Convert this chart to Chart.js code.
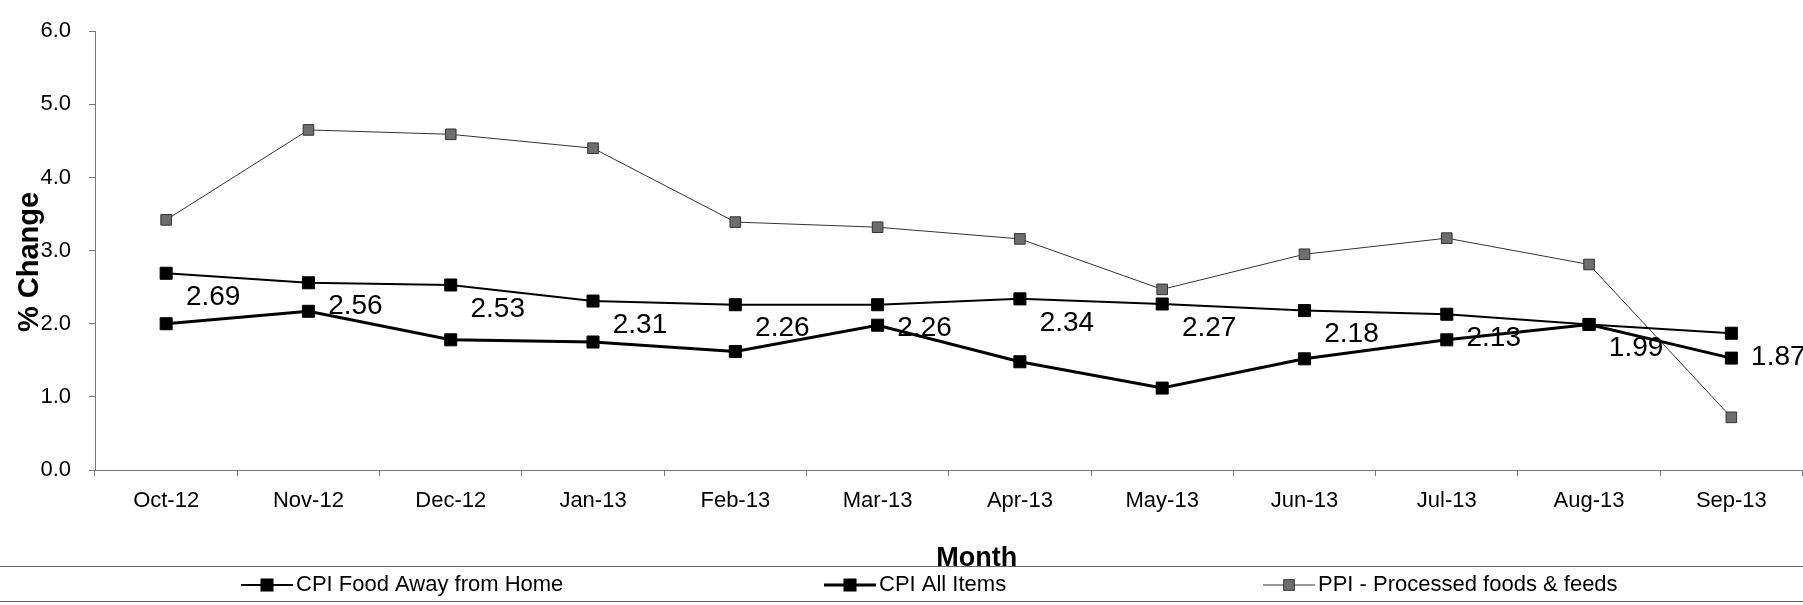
<!DOCTYPE html>
<html>
<head>
<meta charset="utf-8">
<script src="https://cdn.jsdelivr.net/npm/chart.js@4.4.1/dist/chart.umd.min.js"></script>
<style>
  html, body { margin: 0; padding: 0; background: #fff; overflow: hidden; }
  #chart { position: absolute; left: 0; top: 0; }
</style>
</head>
<body>
<canvas id="chart" width="1812" height="605"></canvas>
<script>
const months = ["Oct-12", "Nov-12", "Dec-12", "Jan-13", "Feb-13", "Mar-13", "Apr-13", "May-13", "Jun-13", "Jul-13", "Aug-13", "Sep-13"];
const foodAwayFromHome = [2.69, 2.56, 2.53, 2.31, 2.26, 2.26, 2.34, 2.27, 2.18, 2.13, 1.99, 1.87];
const allItems = [2.00, 2.17, 1.78, 1.75, 1.62, 1.98, 1.48, 1.12, 1.52, 1.78, 1.99, 1.53];
const processedFoods = [3.42, 4.65, 4.59, 4.40, 3.39, 3.32, 3.16, 2.47, 2.95, 3.17, 2.81, 0.72];
const yTicks = [0, 1, 2, 3, 4, 5, 6];

const FONT = "'Liberation Sans', Arial, sans-serif";

// Werte an der ersten Linie (unten rechts vom Punkt)
const valueLabels = {
  id: "valueLabels",
  afterDatasetsDraw(chart) {
    const ctx = chart.ctx;
    const meta = chart.getDatasetMeta(0);
    ctx.save();
    ctx.font = "28px " + FONT;
    ctx.fillStyle = "#000";
    ctx.textAlign = "center";
    ctx.textBaseline = "middle";
    meta.data.forEach((pt, i) => {
      ctx.fillText(chart.data.datasets[0].data[i].toFixed(2), pt.x + 47, pt.y + 24);
    });
    ctx.restore();
  }
};

// Achsentitel + Legende im Excel-Stil
const extras = {
  id: "extras",
  afterDraw(chart) {
    const ctx = chart.ctx;
    const area = chart.chartArea;
    ctx.save();
    ctx.fillStyle = "#000";
    ctx.textAlign = "center";
    ctx.textBaseline = "middle";

    ctx.font = "bold 27px " + FONT;
    ctx.fillText("Month", (area.left + area.right) / 2 + 28, 559);

    ctx.save();
    ctx.translate(30, 262);
    ctx.rotate(-Math.PI / 2);
    ctx.font = "bold 29px " + FONT;
    ctx.fillText("% Change", 0, 0);
    ctx.restore();

    // Rahmen der Legende
    ctx.strokeStyle = "#666";
    ctx.lineWidth = 1;
    ctx.beginPath();
    ctx.moveTo(0, 566.5); ctx.lineTo(1812, 566.5);
    ctx.moveTo(0, 601.5); ctx.lineTo(1812, 601.5);
    ctx.stroke();

    const starts = [241, 824, 1263];
    ctx.font = "22px " + FONT;
    ctx.textAlign = "left";
    chart.data.datasets.forEach((ds, i) => {
      const x = starts[i], y = 585;
      ctx.strokeStyle = ds.borderColor;
      ctx.lineWidth = ds.borderWidth;
      ctx.beginPath();
      ctx.moveTo(x, y); ctx.lineTo(x + 52, y);
      ctx.stroke();
      const s = ds.pointRadius * Math.SQRT1_2;
      ctx.fillStyle = ds.pointBackgroundColor;
      ctx.fillRect(x + 26 - s, y - s, 2 * s, 2 * s);
      ctx.strokeStyle = ds.pointBorderColor;
      ctx.lineWidth = 1;
      ctx.strokeRect(x + 26 - s, y - s, 2 * s, 2 * s);
      ctx.fillStyle = "#000";
      ctx.fillText(ds.label, x + 55, y);
    });
    ctx.restore();
  }
};

new Chart(document.getElementById("chart"), {
  type: "line",
  data: {
    labels: months,
    datasets: [
      {
        label: "CPI Food Away from Home",
        data: foodAwayFromHome,
        borderColor: "#000",
        borderWidth: 2,
        pointStyle: "rect",
        pointRadius: 8.5,
        pointBackgroundColor: "#000",
        pointBorderColor: "#000",
        pointBorderWidth: 1
      },
      {
        label: "CPI All Items",
        data: allItems,
        borderColor: "#000",
        borderWidth: 3,
        pointStyle: "rect",
        pointRadius: 8.5,
        pointBackgroundColor: "#000",
        pointBorderColor: "#000",
        pointBorderWidth: 1
      },
      {
        label: "PPI - Processed foods & feeds",
        data: processedFoods,
        borderColor: "#333",
        borderWidth: 1,
        pointStyle: "rect",
        pointRadius: 7.5,
        pointBackgroundColor: "#6e6e6e",
        pointBorderColor: "#333",
        pointBorderWidth: 1
      }
    ]
  },
  options: {
    responsive: false,
    animation: false,
    devicePixelRatio: 1,
    layout: { padding: { top: 26, right: 1, left: 0, bottom: 0 } },
    plugins: {
      legend: { display: false },
      tooltip: { enabled: false }
    },
    scales: {
      x: {
        offset: true,
        afterFit: (scale) => { scale.height = 135; },
        grid: { offset: true, drawOnChartArea: false, drawTicks: true, tickLength: 6, color: "#777" },
        border: { color: "#777", width: 1 },
        ticks: { color: "#000", font: { family: FONT, size: 22 }, padding: 12, maxRotation: 0, autoSkip: false }
      },
      y: {
        min: 0,
        max: 6,
        afterFit: (scale) => { scale.width = 95; },
        afterBuildTicks: (scale) => { scale.ticks = yTicks.map(v => ({ value: v })); },
        grid: { drawOnChartArea: false, drawTicks: true, tickLength: 6, color: "#777" },
        border: { color: "#777", width: 1 },
        ticks: {
          color: "#000",
          font: { family: FONT, size: 22 },
          padding: 18,
          callback: (v) => v.toFixed(1)
        }
      }
    }
  },
  plugins: [valueLabels, extras]
});
</script>
</body>
</html>
